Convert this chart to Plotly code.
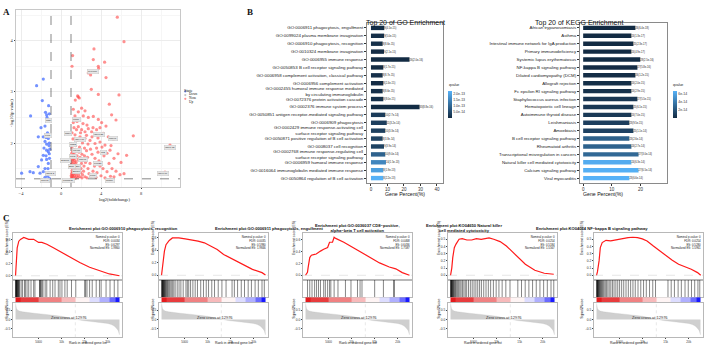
import plotly.graph_objects as go

W, H = 705, 349
SANS = "Liberation Sans, Arial, sans-serif"
SERIF = "Liberation Serif, Times New Roman, serif"


def fx(p):
    return p / W


def fy(p):
    return 1 - p / H


# ---------------- A: volcano data ----------------
up_points = [
    (5.63, 4.46), (6.3, 3.98), (3.3, 3.84), (1.16, 3.71), (3.23, 3.63), (4.36, 3.58), (3.73, 3.5),
    (3.76, 3.46), (1.1, 3.5), (2.73, 3.37), (2.96, 3.33), (4.5, 3.28), (3.03, 3.05), (3.73, 2.95),
    (5.8, 2.94), (1.66, 2.92), (1.83, 2.88), (1.73, 2.9), (1.43, 2.84), (4.83, 2.76), (2.06, 2.68),
    (2.4, 2.63), (1.73, 2.61), (1.23, 2.66), (1.4, 2.53), (2.23, 2.53), (2.73, 2.5), (3.23, 2.52),
    (3.73, 2.46), (4.06, 2.4), (5.06, 2.55), (5.5, 2.45), (7.23, 2.14), (10.9, 1.96), (9.9, 1.41),
    (10.4, 1.43),
    (1.23, 2.4), (1.73, 2.32), (2.06, 2.26), (2.4, 2.22), (2.73, 2.28), (3.06, 2.22), (3.56, 2.26),
    (4.23, 2.19), (4.73, 2.12), (5.23, 2.07), (1.4, 2.16), (1.9, 2.12), (2.4, 2.09), (2.9, 2.05),
    (3.4, 1.99), (3.9, 2.02), (4.4, 1.96), (5.7, 1.79), (6.56, 1.76), (4.9, 1.86), (3.56, 1.9),
    (1.6, 2.42), (2.2, 2.38), (2.6, 2.35), (3.2, 2.3), (3.9, 2.3), (4.5, 2.33), (1.3, 2.3),
    (1.55, 2.26), (1.1, 2.2), (1.95, 2.2), (2.55, 2.15), (3.1, 2.12), (3.7, 2.1), (1.2, 2.08),
    (1.65, 2.05), (2.15, 2.0), (2.7, 1.98), (4.1, 1.92), (5.0, 1.95), (1.05, 1.98), (1.45, 1.95),
    (1.85, 1.92), (2.35, 1.9), (2.95, 1.88), (4.6, 1.8), (5.3, 1.7), (6.0, 1.62),
    (1.03, 1.31), (1.08, 1.34), (1.12, 1.37), (1.05, 1.4), (1.18, 1.43), (1.1, 1.46), (1.22, 1.49),
    (1.06, 1.52), (1.15, 1.55), (1.28, 1.58), (1.09, 1.61), (1.2, 1.64), (1.04, 1.67), (1.3, 1.7),
    (1.13, 1.73), (1.24, 1.77), (1.07, 1.8), (1.17, 1.84), (1.35, 1.87), (1.1, 1.9), (1.25, 1.33),
    (1.35, 1.36), (1.3, 1.41), (1.38, 1.46), (1.33, 1.52), (1.4, 1.6), (1.36, 1.66), (1.02, 1.36),
    (1.14, 1.32), (1.2, 1.38), (1.26, 1.44), (1.02, 1.58), (1.16, 1.69), (1.32, 1.78),
    (1.45, 1.31), (1.55, 1.35), (1.5, 1.4), (1.62, 1.44), (1.48, 1.49), (1.7, 1.33), (1.75, 1.38),
    (1.66, 1.52), (1.8, 1.46), (1.58, 1.57), (1.9, 1.34), (1.95, 1.42), (1.85, 1.55), (1.52, 1.63),
    (1.72, 1.68), (2.0, 1.5), (2.1, 1.32), (2.15, 1.38), (2.05, 1.6), (2.25, 1.45), (1.6, 1.75),
    (1.9, 1.72), (2.3, 1.55), (2.4, 1.34), (2.2, 1.66), (2.45, 1.62), (1.8, 1.82), (2.1, 1.78),
    (1.5, 1.83), (2.35, 1.75),
    (2.6, 1.32), (2.8, 1.4), (2.7, 1.5), (3.0, 1.35), (2.9, 1.6), (3.2, 1.45), (3.5, 1.33),
    (3.35, 1.55), (3.6, 1.42), (3.8, 1.65), (4.0, 1.36), (4.2, 1.5), (2.65, 1.72), (3.1, 1.78),
    (3.4, 1.7), (4.4, 1.32), (4.6, 1.44), (3.9, 1.55), (4.8, 1.6), (2.55, 1.85), (3.7, 1.82),
    (4.3, 1.75), (4.95, 1.35), (5.3, 1.34), (5.5, 1.45), (5.9, 1.38), (6.3, 1.4), (5.1, 1.5),
]
down_points = [
    (-1.77, 3.25), (-2.44, 3.12), (-1.87, 2.83), (-3.04, 2.53), (-1.24, 2.73), (-1.44, 2.55),
    (-1.17, 2.57), (-1.4, 2.5), (-1.27, 2.45), (-1.6, 2.33), (-2.27, 2.12), (-1.77, 2.12),
    (-1.5, 2.11), (-1.27, 2.09), (-1.6, 2.03), (-1.44, 1.98), (-1.17, 2.0), (-1.7, 1.9),
    (-1.44, 1.86), (-1.27, 1.83), (-1.17, 1.79), (-1.77, 1.76), (-1.94, 1.67), (-1.44, 1.68),
    (-1.27, 1.6), (-2.27, 1.54), (-1.6, 1.5), (-3.94, 1.41), (-3.1, 1.44), (-2.77, 1.42),
    (-2.1, 1.41), (-1.77, 1.44), (-1.44, 1.39), (-1.34, 1.35), (-1.6, 1.33), (-1.17, 1.31),
    (-1.2, 1.95), (-1.35, 2.2), (-1.15, 1.7), (-1.5, 1.75), (-1.3, 1.5), (-1.2, 1.42),
    (-1.12, 1.88), (-2.0, 2.3), (-1.55, 2.6),
]
label_genes = ["Cyp4f18", "Cd5l", "Fcrls", "Ighv2-2", "Clec4g", "Mzb1", "Cd19", "Igkv4-80", "Cd22",
               "Ms4a1", "Igkv1-35", "Cd79a", "Ighv1-82", "Cr2", "Pax5", "Siglecg", "Cd79b",
               "Fcer2a", "Ebf1", "Blk", "Bank1", "Fcrla", "Igkv6-17", "Tnfrsf13c", "Jchain"]
label_x = [3.23, -1.27, -1.27, -1.1, -1.6, 1.56, 0.73, 1.9, 1.23, 1.56, 3.83, 5.23, 10.9, 4.23,
           1.23, 0.4, 2.23, 3.73, 1.06, 1.73, 1.56, 3.23, 10.23, 0.73, 4.9]
label_y = [3.39, 2.44, 2.14, 1.41, 1.26, 2.46, 2.19, 2.07, 1.98, 1.85, 2.17, 2.09, 1.92, 1.81,
           1.73, 1.65, 1.67, 1.6, 1.55, 1.54, 1.45, 1.37, 1.41, 1.27, 1.27]
vol_xticks = [-4, 0, 4, 8]
vol_yticks = [2, 3, 4]
fc_cut = 1
p_cut = 1.3
state_names = ["Down", "None", "Up"]
state_colors = ["rgba(70,110,255,0.75)", "rgba(160,160,160,0.6)", "rgba(255,70,70,0.6)"]

# ---------------- B: GO / KEGG data ----------------
go_terms = [
    "GO:0006911 phagocytosis, engulfment",
    "GO:0099024 plasma membrane invagination",
    "GO:0006910 phagocytosis, recognition",
    "GO:0010324 membrane invagination",
    "GO:0006955 immune response",
    "GO:0050853 B cell receptor signaling pathway",
    "GO:0006958 complement activation, classical pathway",
    "GO:0006956 complement activation",
    "GO:0002455 humoral immune response mediated<br>by circulating immunoglobulin",
    "GO:0072376 protein activation cascade",
    "GO:0002376 immune system process",
    "GO:0050851 antigen receptor-mediated signaling pathway",
    "GO:0006909 phagocytosis",
    "GO:0002429 immune response-activating cell<br>surface receptor signaling pathway",
    "GO:0050871 positive regulation of B cell activation",
    "GO:0008037 cell recognition",
    "GO:0002768 immune response-regulating cell<br>surface receptor signaling pathway",
    "GO:0006959 humoral immune response",
    "GO:0016064 immunoglobulin mediated immune response",
    "GO:0050864 regulation of B cell activation",
]
go_percent = [8.1, 8.0, 7.1, 7.9, 23.4, 7.5, 7.1, 7.5, 7.1, 7.5, 29.5, 8.7, 9.6, 8.7, 7.1, 7.9, 8.7,
              9.1, 7.5, 7.5]
go_count = [9, 9, 8, 9, 26, 8, 8, 8, 8, 8, 33, 10, 11, 10, 8, 9, 10, 10, 8, 8]
go_qvalue = [4.5e-15, 5.0e-15, 8.6e-15, 2.1e-15, 2.0e-16, 1.7e-15, 8.7e-15, 2.4e-15, 8.6e-15,
             8.0e-15, 8.8e-16, 2.7e-14, 3.2e-14, 3.3e-14, 3.8e-14, 3.9e-14, 9.0e-14, 1.5e-13,
             1.9e-13, 2.2e-13]
go_qticks = [5.0e-14, 1.0e-13, 1.5e-13, 2.0e-13]
go_qticktext = ["5.0e-14", "1.0e-13", "1.5e-13", "2.0e-13"]
go_xticks = [0, 10, 20, 30, 40]

kegg_terms = [
    "African trypanosomiasis", "Asthma", "Intestinal immune network for IgA production",
    "Primary immunodeficiency", "Systemic lupus erythematosus", "NF-kappa B signaling pathway",
    "Dilated cardiomyopathy (DCM)", "Allograft rejection", "Fc epsilon RI signaling pathway",
    "Staphylococcus aureus infection", "Hematopoietic cell lineage", "Autoimmune thyroid disease",
    "Leishmaniasis", "Amoebiasis", "B cell receptor signaling pathway", "Rheumatoid arthritis",
    "Transcriptional misregulation in cancers", "Natural killer cell mediated cytotoxicity",
    "Calcium signaling pathway", "Viral myocarditis",
]
kegg_percent = [18.2, 16.8, 17.5, 16.8, 19.9, 18.9, 18.2, 16.8, 16.8, 18.9, 17.5, 16.8, 16.1, 17.5,
                16.1, 16.8, 19.3, 16.8, 19.3, 16.1]
kegg_count = [26, 24, 25, 24, 28, 27, 26, 24, 24, 27, 25, 24, 23, 25, 23, 24, 27, 24, 27, 23]
kegg_qvalue = [6.4e-18, 1.3e-17, 2.3e-17, 4.9e-17, 2.5e-16, 5.8e-16, 1.2e-15, 2.0e-15, 2.9e-15,
               5.5e-15, 6.1e-15, 7.0e-15, 9.5e-15, 1.1e-14, 2.6e-14, 2.7e-14, 3.0e-14, 6.3e-14,
               6.5e-14, 6.6e-14]
kegg_qticks = [2e-14, 4e-14, 6e-14]
kegg_qticktext = ["2e-14", "4e-14", "6e-14"]
kegg_xticks = [0, 10, 20]

# ---------------- C: GSEA data ----------------
gsea_titles = [
    "Enrichment plot:GO:0006910 phagocytosis, recognition",
    "Enrichment plot:GO:0006911 phagocytosis, engulfment",
    "Enrichment plot:GO:0036037 CD8\u2212positive,<br>alpha\u2212beta T cell activation",
    "Enrichment plot:KO04650 Natural killer<br>cell mediated cytotoxicity",
    "Enrichment plot:KO04064 NF\u2212kappa B signaling pathway",
]
gsea_fdr = ["0.0034", "0.0035", "0.0468", "0.0254", "0.0254"]
gsea_es = ["0.6297", "0.5980", "0.6436", "0.5184", "0.5280"]
gsea_nes = ["1.9860", "1.9846", "1.7587", "1.5567", "1.5961"]

es_rank = [
    [0, 140, 360, 710, 1070, 1790, 2140, 2860, 3930, 5000, 5710, 6790, 8210, 9860, 11790, 13930,
     16070, 18210, 20360, 22550],
    [0, 140, 420, 625, 970, 1670, 2360, 3750, 5140, 6530, 7920, 9300, 10700, 12080, 13470, 15560,
     17640, 19720, 21800, 22550],
    [0, 420, 560, 915, 1270, 1410, 1970, 2320, 2820, 3240, 3940, 4300, 4790, 5210, 5850, 6200,
     6550, 8310, 10070, 11830, 13940, 16060, 18170, 19580, 20990, 22550],
    [0, 270, 480, 820, 1160, 1850, 2530, 3560, 4590, 5620, 6640, 8360, 9380, 10750, 12120, 13490,
     14860, 16230, 18290, 20340, 22400],
    [0, 205, 550, 820, 1230, 2050, 3080, 4110, 5480, 6850, 7880, 8900, 9930, 10960, 12330, 13700,
     15070, 16440, 17810, 19180, 20550, 21920, 22600],
]
es_value = [
    [0.0, 0.3, 0.46, 0.57, 0.6, 0.63, 0.62, 0.6, 0.6, 0.55, 0.55, 0.52, 0.46, 0.39, 0.3, 0.22,
     0.14, 0.08, 0.03, 0.0],
    [0.0, 0.1, 0.228, 0.387, 0.49, 0.557, 0.598, 0.598, 0.584, 0.568, 0.546, 0.52, 0.467, 0.414,
     0.334, 0.255, 0.175, 0.095, 0.042, 0.005],
    [0.0, 0.05, 0.13, 0.3, 0.34, 0.345, 0.355, 0.36, 0.39, 0.41, 0.44, 0.455, 0.47, 0.56, 0.56,
     0.6436, 0.625, 0.56, 0.48, 0.39, 0.3, 0.21, 0.14, 0.11, 0.045, 0.0],
    [0.0, 0.1, 0.245, 0.384, 0.43, 0.5, 0.509, 0.49, 0.49, 0.509, 0.5, 0.5184, 0.5, 0.468, 0.407,
     0.324, 0.245, 0.153, 0.07, 0.028, 0.014],
    [0.0, 0.05, 0.2, 0.384, 0.454, 0.486, 0.477, 0.49, 0.509, 0.523, 0.528, 0.523, 0.505, 0.477,
     0.407, 0.338, 0.268, 0.208, 0.153, 0.12, 0.083, 0.037, 0.0],
]
es_ranges = [[-0.063, 0.708], [-0.069, 0.68], [-0.073, 0.72], [-0.06, 0.59], [-0.06, 0.59]]
es_ticks = [[0.0, 0.2, 0.4, 0.6], [0.0, 0.2, 0.4, 0.6], [0.0, 0.2, 0.4, 0.6],
            [0.0, 0.1, 0.2, 0.3, 0.4, 0.5], [0.0, 0.1, 0.2, 0.3, 0.4, 0.5]]

hits = [
    [30, 60, 110, 150, 200, 260, 330, 400, 480, 560, 650, 760, 880, 1210, 1500, 1930, 2140, 2500,
     2860, 3360, 3930, 4210, 5200, 5300, 5400, 5550, 5750, 5950, 6430, 6780, 7500, 8070, 8570,
     9280, 9640, 10070, 10710, 11210, 12140, 13070, 15000, 15200, 15500, 16070, 16640, 17500,
     18210, 18570, 19640, 20500, 21420, 22210],
    [40, 90, 140, 200, 260, 330, 400, 470, 550, 640, 740, 850, 980, 1120, 1280, 1450, 1650, 1850,
     2100, 2350, 2650, 2950, 3400, 3800, 4200, 4700, 5300, 5600, 5900, 6300, 6800, 7300, 7800,
     8500, 9100, 9700, 10200, 10900, 11500, 12300, 13100, 14000, 15300, 15800, 16500, 17300,
     18000, 18800, 19500, 20300, 21000, 21800, 22300],
    [420, 915, 1410, 1970, 2390, 2820, 3240, 3940, 4300, 4790, 5210, 5490, 6200, 7040, 8660, 9860,
     11270, 11830, 12250, 15000, 16900, 19090, 19300],
    [30, 70, 120, 170, 230, 300, 370, 450, 540, 640, 760, 900, 1050, 1200, 1400, 1600, 1800, 2050,
     2300, 2600, 2900, 3200, 3500, 3900, 4300, 4700, 5100, 5500, 5900, 6300, 6700, 7200, 7700,
     8200, 8700, 9300, 9900, 10500, 11200, 12000, 12900, 14600, 15400, 16200, 17000, 17800,
     18600, 19400, 20200, 21000, 21800, 22400],
    [30, 80, 130, 190, 250, 320, 400, 490, 590, 700, 820, 950, 1100, 1270, 1450, 1650, 1900, 2150,
     2450, 2750, 3100, 3450, 3800, 4200, 4600, 5000, 5450, 5900, 6400, 6900, 7400, 7900, 8400,
     9000, 9600, 10200, 10800, 11500, 12200, 12800, 15500, 16200, 16900, 17700, 18400, 19200,
     19900, 20600, 21300, 22000, 22400],
]
rank_x = [0, 80, 200, 400, 800, 1500, 2500, 4000, 6000, 8000, 10000, 11500, 12976, 14500, 16000,
          17500, 19000, 20000, 20800, 21400, 21900, 22300, 22550]
rank_metric = [0.88, 0.72, 0.6, 0.52, 0.46, 0.42, 0.38, 0.34, 0.29, 0.24, 0.17, 0.09, 0.0, -0.06,
               -0.1, -0.14, -0.18, -0.22, -0.28, -0.36, -0.48, -0.62, -0.85]
zero_cross = 12976
strip_edges = [0, 1100, 5000, 10000, 13000, 16000, 18200, 20300, 21700, 22550]
strip_levels = [1.0, 0.85, 0.55, 0.3, 0.05, -0.15, -0.35, -0.65, -1.0]
rank_xticks = [5000, 10000, 15000, 20000]
rank_range = [-550, 23100]
metric_range = [-0.98, 0.93]
metric_ticks = [-0.5, 0.0, 0.5]

# ---------------- figure ----------------
fig = go.Figure()
annotations = []
shapes = []
layout = dict(template="none", width=W, height=H, margin=dict(l=0, r=0, t=0, b=0, pad=0),
              paper_bgcolor="white", plot_bgcolor="white", showlegend=False,
              font=dict(family=SANS, color="#222"))


def ann(text, x, y, size, family=SANS, color="#111", **kw):
    d = dict(text=text, x=fx(x), y=fy(y), xref="paper", yref="paper", showarrow=False,
             borderpad=0, font=dict(size=size, family=family, color=color))
    d.update(kw)
    annotations.append(d)


# ---- A volcano ----
vx = dict(domain=[fx(16), fx(180)], range=[-4.5, 11.9], anchor="y", automargin=False,
          tickmode="array", tickvals=vol_xticks, ticks="outside", ticklen=1.5, tickwidth=0.5,
          tickcolor="#444", tickfont=dict(size=4.5, family=SERIF, color="#333"), showline=True,
          mirror=True, linecolor="#c8c8c8", linewidth=0.8, showgrid=True, gridcolor="#ececec",
          gridwidth=0.5, zeroline=False,
          minor=dict(tickvals=[-2, 2, 6, 10], showgrid=True, gridcolor="#f6f6f6", gridwidth=0.4))
vy = dict(domain=[fy(187), fy(10)], range=[1.14, 4.6], anchor="x", automargin=False,
          tickmode="array", tickvals=vol_yticks, ticks="outside", ticklen=1.5, tickwidth=0.5,
          tickcolor="#444", tickfont=dict(size=4.5, family=SERIF, color="#333"), showline=True,
          mirror=True, linecolor="#c8c8c8", linewidth=0.8, showgrid=True, gridcolor="#ececec",
          gridwidth=0.5, zeroline=False,
          minor=dict(tickvals=[1.5, 2.5, 3.5, 4.5], showgrid=True, gridcolor="#f6f6f6",
                     gridwidth=0.4))
layout["xaxis"] = vx
layout["yaxis"] = vy

fig.add_trace(go.Scatter(x=[p[0] for p in down_points], y=[p[1] for p in down_points],
                         mode="markers", marker=dict(size=3.2, color=state_colors[0], line=dict(width=0)),
                         xaxis="x", yaxis="y", hoverinfo="skip"))
fig.add_trace(go.Scatter(x=[p[0] for p in up_points], y=[p[1] for p in up_points],
                         mode="markers", marker=dict(size=3.2, color=state_colors[2], line=dict(width=0)),
                         xaxis="x", yaxis="y", hoverinfo="skip"))
for xv in (-fc_cut, fc_cut):
    shapes.append(dict(type="line", xref="x", yref="y domain", x0=xv, x1=xv, y0=0, y1=1,
                       line=dict(color="#555", width=0.7, dash="dash")))
shapes.append(dict(type="line", xref="x domain", yref="y", x0=0, x1=1, y0=p_cut, y1=p_cut,
                   line=dict(color="#555", width=0.7, dash="dash")))
for g, gx, gy in zip(label_genes, label_x, label_y):
    annotations.append(dict(text=g, x=gx, y=gy, xref="x", yref="y", showarrow=False,
                            font=dict(size=2.4, family=SANS, color="#333"), bgcolor="#e6e6e6",
                            bordercolor="#c4c4c4", borderwidth=0.4, borderpad=0.6))
ann("-log10(p value)", 7.5, 98, 4.5, family=SERIF, textangle=-90)
ann("log2(foldchange)", 98, 199, 4.5, family=SERIF)
ann("State", 182.5, 87.0, 4.3, family=SERIF, xanchor="left")
for i, (nm, col) in enumerate(zip(state_names, state_colors)):
    yy = 91.4 + i * 3.7
    shapes.append(dict(type="circle", xref="paper", yref="paper", x0=fx(184.2), x1=fx(186.4),
                       y0=fy(yy + 1.1), y1=fy(yy - 1.1), fillcolor=col, line=dict(width=0)))
    ann(nm, 188, yy, 3.4, family=SERIF, xanchor="left")
ann("<b>A</b>", 2, 6, 9, family=SERIF, xanchor="left")
ann("<b>B</b>", 246, 6, 9, family=SERIF, xanchor="left")
ann("<b>C</b>", 2, 218, 9, family=SERIF, xanchor="left")

QSCALE = [[0, "#132B43"], [1, "#56B1F7"]]


def bar_panel(n, terms, perc, counts, qv, xl, xr, xrange, xticks, qmax, qticks, qtt, cbx, title):
    xa = dict(domain=[fx(xl), fx(xr)], range=xrange, anchor=f"y{n}", automargin=False,
              tickmode="array", tickvals=xticks, ticks="outside", ticklen=1.5, tickwidth=0.6,
              tickcolor="#333", tickfont=dict(size=4.5, color="#333"), showline=True,
              mirror=True, linecolor="#8a8a8a", linewidth=1, showgrid=False, zeroline=False)
    ya = dict(domain=[fy(183), fy(23)], anchor=f"x{n}", type="category", automargin=False,
              range=[len(terms) - 0.38, -0.62], tickmode="array", tickvals=terms, ticktext=terms,
              ticks="outside", ticklen=2, tickwidth=0.6, tickcolor="#333",
              tickfont=dict(size=4.4, color="#222"), showline=True, mirror=True,
              linecolor="#8a8a8a", linewidth=1, showgrid=False, zeroline=False)
    layout[f"xaxis{n}"] = xa
    layout[f"yaxis{n}"] = ya
    labels = [f"{c}({q:.1e})" for c, q in zip(counts, qv)]
    fig.add_trace(go.Bar(
        x=perc, y=terms, orientation="h", xaxis=f"x{n}", yaxis=f"y{n}", width=0.56,
        marker=dict(color=qv, colorscale=QSCALE, cmin=0, cmax=qmax, showscale=True,
                    line=dict(width=0),
                    colorbar=dict(x=fx(cbx), xanchor="left", y=fy(118.3), yanchor="bottom",
                                  len=27, lenmode="pixels", thickness=4.2, thicknessmode="pixels",
                                  xpad=0, ypad=0, outlinewidth=0, tickmode="array",
                                  tickvals=qticks, ticktext=qtt, ticks="",
                                  tickfont=dict(size=3.5, color="#333"))),
        text=labels, textposition="outside", textfont=dict(size=2.6, color="#222"),
        constraintext="none", cliponaxis=False, hoverinfo="skip"))
    ann(title, (xl + xr) / 2, 17.6, 7, color="#111")
    ann("Gene Percent(%)", (xl + xr) / 2, 193.8, 5.2, color="#111")
    ann("qvalue", cbx - 0.5, 88.2, 3.5, xanchor="left", yanchor="bottom", color="#222")


bar_panel(2, go_terms, go_percent, go_count, go_qvalue, 367, 443, [-2.4, 43.7], go_xticks,
          2.2e-13, go_qticks, go_qticktext, 448, "Top 20 of GO Enrichment")
bar_panel(3, kegg_terms, kegg_percent, kegg_count, kegg_qvalue, 580, 667, [-1.1, 29.2],
          kegg_xticks, 6.6e-14, kegg_qticks, kegg_qticktext, 672.7, "Top 20 of KEGG Enrichment")

# ---- C GSEA ----
gsea_left = [13, 159, 303, 448, 594]
PW = 109
ES_T, ES_B, BC_B, ST_B, RK_B = 232.8, 279.6, 297.2, 302.5, 337.3
BOX = "#b8b8b8"
for i in range(5):
    L = gsea_left[i]
    n_es, n_bc, n_st, n_rk = 4 + 4 * i, 5 + 4 * i, 6 + 4 * i, 7 + 4 * i
    dom = [fx(L), fx(L + PW)]
    common_x = dict(domain=dom, range=rank_range, showgrid=False, zeroline=False, automargin=False,
                    showline=True, mirror=True, linecolor=BOX, linewidth=0.6)
    layout[f"xaxis{n_es}"] = dict(common_x, anchor=f"y{n_es}", showticklabels=False, ticks="")
    layout[f"yaxis{n_es}"] = dict(domain=[fy(ES_B), fy(ES_T)], anchor=f"x{n_es}",
                                  automargin=False, range=es_ranges[i], tickmode="array",
                                  tickvals=es_ticks[i],
                                  ticktext=[f"{v:.1f}" for v in es_ticks[i]], ticks="outside",
                                  ticklen=1.3, tickwidth=0.4, tickcolor="#444",
                                  tickfont=dict(size=3.3, color="#333"), showgrid=False,
                                  zeroline=False, showline=True, mirror=True, linecolor=BOX,
                                  linewidth=0.6)
    layout[f"xaxis{n_bc}"] = dict(common_x, anchor=f"y{n_bc}", showticklabels=False, ticks="")
    layout[f"yaxis{n_bc}"] = dict(domain=[fy(BC_B), fy(ES_B)], anchor=f"x{n_bc}", range=[0, 1],
                                  automargin=False, showticklabels=False, ticks="",
                                  showgrid=False, zeroline=False, showline=True, mirror=True,
                                  linecolor=BOX, linewidth=0.6)
    layout[f"xaxis{n_st}"] = dict(common_x, anchor=f"y{n_st}", showticklabels=False, ticks="",
                                  showline=False)
    layout[f"yaxis{n_st}"] = dict(domain=[fy(ST_B), fy(BC_B)], anchor=f"x{n_st}", range=[0, 1],
                                  automargin=False, showticklabels=False, ticks="",
                                  showgrid=False, zeroline=False, showline=False)
    layout[f"xaxis{n_rk}"] = dict(common_x, anchor=f"y{n_rk}", tickmode="array",
                                  tickvals=rank_xticks, ticks="outside", ticklen=0.8,
                                  tickwidth=0.4, tickcolor="#444",
                                  tickfont=dict(size=3.0, color="#333"))
    layout[f"yaxis{n_rk}"] = dict(domain=[fy(RK_B), fy(ST_B)], anchor=f"x{n_rk}",
                                  automargin=False, range=metric_range, tickmode="array",
                                  tickvals=metric_ticks,
                                  ticktext=[f"{v:.1f}" for v in metric_ticks], ticks="outside",
                                  ticklen=1.3, tickwidth=0.4, tickcolor="#444",
                                  tickfont=dict(size=3.3, color="#333"), showgrid=False,
                                  zeroline=False, showline=True, mirror=True, linecolor=BOX,
                                  linewidth=0.6)
    shapes.append(dict(type="line", xref=f"x{n_es} domain", yref=f"y{n_es}", x0=0, x1=1, y0=0,
                       y1=0, line=dict(color="#cccccc", width=0.5, dash="dash")))
    fig.add_trace(go.Scatter(x=es_rank[i], y=es_value[i], mode="lines",
                             line=dict(color="#ff1a1a", width=1.2), xaxis=f"x{n_es}",
                             yaxis=f"y{n_es}", hoverinfo="skip"))
    hx, hy = [], []
    for h in hits[i]:
        hx += [h, h, None]
        hy += [0, 1, None]
    fig.add_trace(go.Scatter(x=hx, y=hy, mode="lines", line=dict(color="rgba(0,0,0,0.8)", width=0.6),
                             xaxis=f"x{n_bc}", yaxis=f"y{n_bc}", hoverinfo="skip"))
    fig.add_trace(go.Heatmap(x=strip_edges, y=[0, 1], z=[strip_levels],
                             colorscale=[[0, "#1a1aff"], [0.5, "#ffffff"], [1, "#e41a1c"]],
                             zmin=-1, zmax=1, showscale=False, xaxis=f"x{n_st}",
                             yaxis=f"y{n_st}", hoverinfo="skip"))
    fig.add_trace(go.Scatter(x=rank_x, y=rank_metric, mode="lines", fill="tozeroy",
                             fillcolor="#cfcfcf", line=dict(width=0.3, color="#bdbdbd"),
                             xaxis=f"x{n_rk}", yaxis=f"y{n_rk}", hoverinfo="skip"))
    shapes.append(dict(type="line", xref=f"x{n_rk}", yref=f"y{n_rk} domain", x0=zero_cross,
                       x1=zero_cross, y0=0, y1=1, line=dict(color="#d0d0d0", width=0.5,
                                                            dash="dot")))
    annotations.append(dict(text=f"Zero cross at {zero_cross}", x=zero_cross, y=0.11,
                            xref=f"x{n_rk}", yref=f"y{n_rk}", xshift=-6, showarrow=False,
                            borderpad=0, font=dict(size=4, family=SANS, color="#333")))
    ann(f"<b>{gsea_titles[i]}</b>", L + PW / 2, 228.0, 4.1, color="#111")
    ann(f"Nominal p-value: 0<br>FDR: {gsea_fdr[i]}<br>ES: {gsea_es[i]}<br>Normalized ES: {gsea_nes[i]}",
        L + PW - 1.5, ES_T + 1.5, 2.9, color="#222", xanchor="right", yanchor="top", align="right")
    ann("Enrichment score (ES)", L - 9.2, (ES_T + ES_B) / 2, 3.4, color="#222", textangle=-90)
    ann("Signal2Noise", L - 9.2, (ST_B + RK_B) / 2, 3.4, color="#222", textangle=-90)
    ann("Rank in ordered gene list", L + PW / 2, 346.2, 3.4, color="#222")

layout["annotations"] = annotations
layout["shapes"] = shapes
fig.update_layout(**layout)
fig.write_html("out.html", config={"displayModeBar": False, "responsive": False},
               post_script="document.body.style.margin='0';document.body.style.padding='0';")
